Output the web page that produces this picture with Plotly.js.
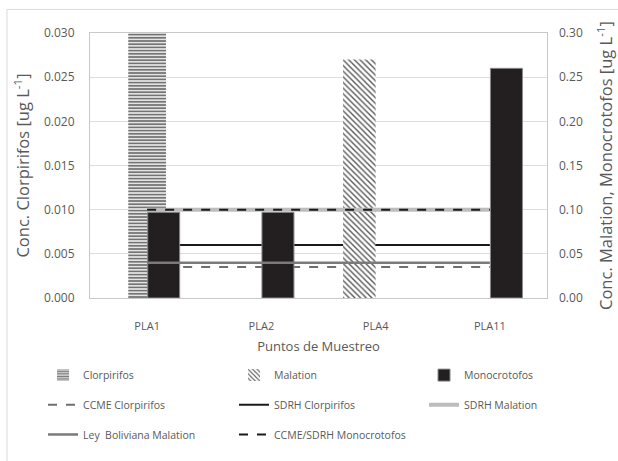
<!DOCTYPE html>
<html><head><meta charset="utf-8">
<script src="https://cdn.plot.ly/plotly-3.0.1.min.js"></script>
<style>html,body{margin:0;padding:0;background:#fff}#c{width:618px;height:461px}</style>
</head><body><div id="c"></div>
<script>
const categories = ['PLA1','PLA2','PLA4','PLA11'];
const clorpirifos = [0.030, null, null, null];
const malation = [null, null, 0.27, null];
const monocrotofos = [0.097, 0.097, null, 0.26];
const ccmeClorpirifos = [0.0035, 0.0035, 0.0035, 0.0035];
const sdrhClorpirifos = [0.006, 0.006, 0.006, 0.006];
const sdrhMalation = [0.10, 0.10, 0.10, 0.10];
const leyBolivianaMalation = [0.04, 0.04, 0.04, 0.04];
const ccmeSdrhMonocrotofos = [0.10, 0.10, 0.10, 0.10];

const FONT = '"Open Sans", "Noto Sans", sans-serif';
const TXT = '#595959';

const traces = [
  {type:'bar', name:'Clorpirifos', x:categories, y:clorpirifos, yaxis:'y', legend:'legend',
   width:0.33, offset:-0.165,
   marker:{color:'#ffffff', line:{width:0}, pattern:{shape:'-', fgcolor:'#737373', bgcolor:'#ffffff', size:3.2, solidity:0.6}}},
  {type:'bar', name:'Malation', x:categories, y:malation, yaxis:'y2', legend:'legend2',
   width:0.285, offset:-0.285,
   marker:{color:'#ffffff', line:{width:0}, pattern:{shape:'\\', fgcolor:'#5a5a5a', bgcolor:'#ffffff', size:4, solidity:0.35}}},
  {type:'bar', name:'Monocrotofos', x:categories, y:monocrotofos, yaxis:'y2', legend:'legend3',
   width:0.28, offset:0.005,
   marker:{color:'#231f20', line:{width:1, color:'#8a8a8a'}}},
  {type:'scatter', mode:'lines', name:'CCME Clorpirifos', x:categories, y:ccmeClorpirifos, yaxis:'y', legend:'legend4',
   line:{color:'#6f6f6f', width:2, dash:'dash'}},
  {type:'scatter', mode:'lines', name:'SDRH Clorpirifos', x:categories, y:sdrhClorpirifos, yaxis:'y', legend:'legend5',
   line:{color:'#1a1a1a', width:2}},
  {type:'scatter', mode:'lines', name:'SDRH Malation', x:categories, y:sdrhMalation, yaxis:'y2', legend:'legend6',
   line:{color:'#bdbdbd', width:4}},
  {type:'scatter', mode:'lines', name:'Ley  Boliviana Malation', x:categories, y:leyBolivianaMalation, yaxis:'y2', legend:'legend7',
   line:{color:'#7a7a7a', width:2.5}},
  {type:'scatter', mode:'lines', name:'CCME/SDRH Monocrotofos', x:categories, y:ccmeSdrhMonocrotofos, yaxis:'y2', legend:'legend8',
   line:{color:'#1a1a1a', width:2, dash:'dash'}}
];

const colX = [-0.1028, 0.3151, 0.7309];
const rowY = [-0.291, -0.403, -0.515];
function leg(col, row) {
  return {orientation:'v', xanchor:'left', yanchor:'middle', x:colX[col], y:rowY[row],
    bgcolor:'rgba(0,0,0,0)', borderwidth:0, itemwidth:30,
    font:{family:FONT, size:10.5, color:TXT}};
}

const layout = {
  width:618, height:461,
  margin:{l:90, r:71, t:33, b:160},
  paper_bgcolor:'#ffffff', plot_bgcolor:'#ffffff',
  font:{family:FONT, color:TXT},
  barmode:'overlay',
  showlegend:true,
  xaxis:{type:'category', showgrid:false, showline:true, linecolor:'#c8c8c8', linewidth:1, mirror:true,
    ticks:'', ticklabelstandoff:18, tickfont:{family:FONT, size:11, color:TXT},
    title:{text:'Puntos de Muestreo', font:{family:FONT, size:13, color:TXT}, standoff:9}},
  yaxis:{range:[0,0.030], dtick:0.005, tickformat:'.3f', showgrid:true, gridcolor:'#dedede', gridwidth:1,
    zeroline:false, showline:true, linecolor:'#c8c8c8', mirror:true, ticks:'', ticklabelstandoff:12,
    tickfont:{family:FONT, size:12, color:TXT},
    title:{text:'Conc. Clorpirifos [ug L<sup>-1</sup>]', font:{family:FONT, size:16.5, color:TXT}, standoff:10}},
  yaxis2:{range:[0,0.30], dtick:0.05, tickformat:'.2f', overlaying:'y', side:'right', showgrid:false,
    zeroline:false, showline:false, ticks:'', ticklabelstandoff:11,
    tickfont:{family:FONT, size:12, color:TXT},
    title:{text:'Conc. Malation, Monocrotofos [ug L<sup>-1</sup>]', font:{family:FONT, size:16.5, color:TXT}, standoff:18}},
  legend:leg(0,0), legend2:leg(1,0), legend3:leg(2,0),
  legend4:leg(0,1), legend5:leg(1,1), legend6:leg(2,1),
  legend7:leg(0,2), legend8:leg(1,2),
  shapes:[{type:'rect', xref:'paper', yref:'paper', x0:-0.1816, x1:1.2, y0:-0.62, y1:1.089,
    line:{color:'#d9d9d9', width:1}, fillcolor:'rgba(0,0,0,0)', layer:'below'}]
};

Plotly.newPlot('c', traces, layout, {displayModeBar:false, staticPlot:true});
</script></body></html>
